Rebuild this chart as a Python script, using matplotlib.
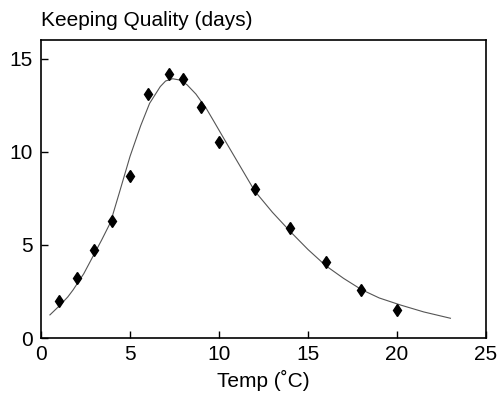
import matplotlib
matplotlib.use("Agg")
import matplotlib.pyplot as plt

plt.rcParams['font.family'] = ['Liberation Sans', 'DejaVu Sans']

# measured keeping quality
temp = [1, 2, 3, 4, 5, 6, 7.2, 8, 9, 10, 12, 14, 16, 18, 20]
days = [2.0, 3.2, 4.7, 6.3, 8.7, 13.1, 14.2, 13.9, 12.4, 10.5, 8.0, 5.9, 4.1, 2.6, 1.5]

# fitted curve
fit_x = [0.5, 1.0, 1.5, 1.8, 2.4, 2.9, 3.4, 3.9, 4.4, 5.0, 5.6, 6.1, 6.7, 7.0, 7.4,
         7.8, 8.2, 8.7, 9.3, 9.7, 10.4, 11.2, 12.0, 13.0, 14.0, 15.0, 16.0, 17.0,
         18.0, 19.0, 20.2, 21.5, 23.0]
fit_y = [1.24, 1.7, 2.2, 2.58, 3.45, 4.35, 5.25, 6.2, 7.8, 9.75, 11.4, 12.6, 13.5, 13.8, 13.92,
         13.85, 13.6, 13.1, 12.3, 11.65, 10.5, 9.2, 7.9, 6.75, 5.72, 4.75, 3.88, 3.2,
         2.6, 2.15, 1.77, 1.4, 1.06]

fig = plt.figure(figsize=(4.99, 3.95), dpi=100)
ax = fig.add_axes([0.0822, 0.1443, 0.8918, 0.7544])

ax.plot(fit_x, fit_y, color='#555555', lw=0.8)
ax.plot(temp, days, linestyle='none', marker='d', color='black', markersize=6.5)

ax.set_xlim(0, 25)
ax.set_ylim(0, 16)
ax.set_xticks([0, 5, 10, 15, 20, 25])
ax.set_yticks([0, 5, 10, 15])
ax.tick_params(direction='in', length=5, width=1, labelsize=15)
ax.tick_params(axis='x', pad=5)
ax.tick_params(axis='y', pad=6)
for s in ax.spines.values():
    s.set_linewidth(1.2)

ax.set_xlabel('Temp (˚C)', fontsize=15, labelpad=4)
fig.text(0.0822, 0.948, 'Keeping Quality (days)', fontsize=15, ha='left', va='center')

fig.savefig('out.png', dpi=100)
